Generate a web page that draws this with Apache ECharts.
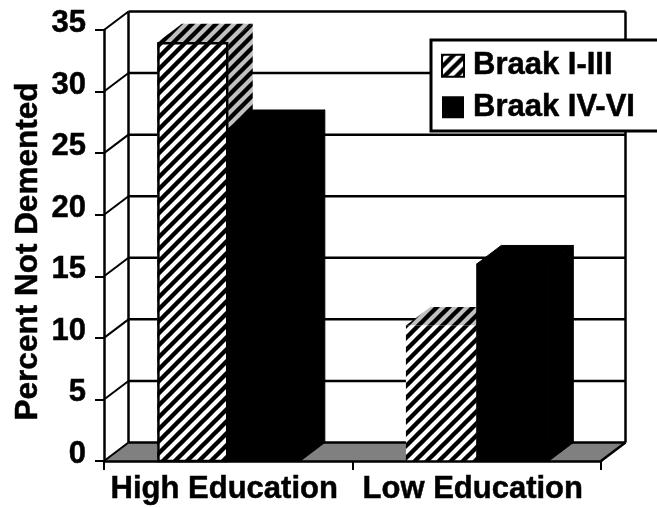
<!DOCTYPE html>
<html>
<head>
<meta charset="utf-8">
<style>html,body{margin:0;padding:0;background:#fff}#chart{width:657px;height:508px}</style>
<script src="https://cdn.jsdelivr.net/npm/echarts@6/dist/echarts.min.js"></script>
</head>
<body>
<div id="chart"></div>
<script>
const categories = ['High Education', 'Low Education'];
const seriesNames = ['Braak I-III', 'Braak IV-VI'];
const braakEarly = [34, 11];
const braakLate = [27, 16];
const yTicks = [0, 5, 10, 15, 20, 25, 30, 35];

// Oblique projection of the depth axis, in pixels.
const DEPTH_X = 24.5;
const DEPTH_Y = -18.5;
const BAR_SHARES = [0.285, 0.29];
const FONT = '"Liberation Sans", Arial, sans-serif';

function heavyText(size) {
  return {
    color: '#000',
    fontFamily: FONT,
    fontWeight: 'bold',
    fontSize: size,
    textBorderColor: '#000',
    textBorderWidth: 0.5
  };
}

function hatch(background) {
  const size = 12;
  const c = document.createElement('canvas');
  c.width = size;
  c.height = size;
  const g = c.getContext('2d');
  g.fillStyle = background;
  g.fillRect(0, 0, size, size);
  g.strokeStyle = '#000';
  g.lineWidth = 4.4;
  [[-size, size, size, -size], [0, size, size, 0], [0, 2 * size, 2 * size, 0]].forEach(function (s) {
    g.beginPath();
    g.moveTo(s[0], s[1]);
    g.lineTo(s[2], s[3]);
    g.stroke();
  });
  return { image: c, repeat: 'repeat' };
}

const hatchFront = hatch('#fff');
const hatchShaded = hatch('#c0c0c0');

function poly(points, fill, solid) {
  return {
    type: 'polygon',
    shape: { points: points },
    style: solid ? { fill: fill, stroke: fill, lineWidth: 1 } : { fill: fill, stroke: null }
  };
}

function seg(x1, y1, x2, y2, width) {
  return {
    type: 'line',
    shape: { x1: x1, y1: y1, x2: x2, y2: y2 },
    style: { stroke: '#000', lineWidth: width }
  };
}

// Back wall, floor and the gridlines that wrap round the left wall.
function renderFrame(params, api) {
  const grid = params.coordSys;
  const left = grid.x;
  const right = grid.x + grid.width;
  const wallL = left + DEPTH_X;
  const wallR = right + DEPTH_X;
  const y = api.coord([0, api.value(1)])[1];
  const wallY = y + DEPTH_Y;
  const children = [];
  if (api.value(1) === 0) {
    children.push(poly([[left, y], [wallL, wallY], [wallR, wallY], [right, y]], '#808080'));
    children.push(seg(right, y, wallR, wallY, 2.5));
    children.push(seg(wallR, wallY, wallR, grid.y + DEPTH_Y, 2.5));
    children.push(seg(wallL, wallY, wallL, grid.y + DEPTH_Y, 2.5));
  }
  children.push(seg(wallL, wallY, wallR, wallY, 2.5));
  children.push(seg(left, y, wallL, wallY, 2));
  return { type: 'group', children: children };
}

function barRenderer(side, front, shaded, solid, outlined) {
  return function (params, api) {
    const band = api.size([1, 0])[0];
    const width = band * BAR_SHARES[side];
    const centre = api.coord([api.value(0), api.value(1)]);
    const x0 = side === 0 ? centre[0] - width : centre[0];
    const x1 = x0 + width;
    const top = centre[1];
    const base = api.coord([api.value(0), 0])[1];
    const children = [
      poly([[x1, top], [x1 + DEPTH_X, top + DEPTH_Y], [x1 + DEPTH_X, base + DEPTH_Y], [x1, base]], shaded, solid),
      poly([[x0, top], [x0 + DEPTH_X, top + DEPTH_Y], [x1 + DEPTH_X, top + DEPTH_Y], [x1, top]], shaded, solid),
      poly([[x0, top], [x1, top], [x1, base], [x0, base]], front, solid)
    ];
    if (outlined(params.dataIndex)) {
      children.push({
        type: 'rect',
        shape: { x: x0 + 1, y: top + 1, width: width - 2, height: base - top - 1 },
        style: { fill: null, stroke: '#000', lineWidth: 2.5 }
      });
    }
    return { type: 'group', children: children };
  };
}

const chart = echarts.init(document.getElementById('chart'), null, { renderer: 'canvas' });
chart.setOption({
  animation: false,
  backgroundColor: '#fff',
  grid: { left: 104, top: 30, width: 497, height: 431, outerBoundsMode: 'none' },
  xAxis: {
    type: 'category',
    data: categories,
    z: 5,
    axisLine: { lineStyle: { color: '#000', width: 2.5 } },
    axisTick: { show: true, alignWithLabel: false, length: 9, lineStyle: { color: '#000', width: 2 } },
    axisLabel: Object.assign(heavyText(31), { interval: 0, margin: 13, padding: [0, 8, 0, 0], hideOverlap: false })
  },
  yAxis: {
    type: 'value',
    min: 0,
    max: 35,
    interval: 5,
    z: 5,
    name: 'Percent Not Demented',
    nameLocation: 'middle',
    nameRotate: 90,
    nameGap: 60,
    nameMoveOverlap: false,
    nameTextStyle: Object.assign(heavyText(31.5), { padding: [0, 12, 0, 0] }),
    axisLine: { show: true, lineStyle: { color: '#000', width: 2.5 } },
    axisTick: { show: true, length: 9, lineStyle: { color: '#000', width: 2 } },
    axisLabel: Object.assign(heavyText(31), { margin: 18, verticalAlign: 'bottom', lineHeight: 13 }),
    splitLine: { show: false }
  },
  legend: {
    left: 431,
    top: 40,
    orient: 'vertical',
    data: seriesNames.map(function (name) { return { name: name, icon: 'rect' }; }),
    padding: [10, 40, 8, 10],
    itemGap: 10,
    itemWidth: 22,
    itemHeight: 22,
    selectedMode: false,
    backgroundColor: '#fff',
    borderColor: '#000',
    borderWidth: 3,
    borderRadius: 0,
    textStyle: Object.assign(heavyText(31), { padding: [0, 0, 0, 4] })
  },
  series: [
    {
      type: 'custom',
      name: 'frame',
      silent: true,
      renderItem: renderFrame,
      encode: { x: 0, y: 1 },
      data: yTicks.map(function (v) { return [0, v]; }),
      z: 1
    },
    {
      type: 'custom',
      name: seriesNames[0],
      renderItem: barRenderer(0, hatchFront, hatchShaded, false, function (i) { return i === 0; }),
      encode: { x: 0, y: 1 },
      itemStyle: { color: hatchFront, borderColor: '#000', borderWidth: 2 },
      data: braakEarly.map(function (v, i) { return [i, v]; }),
      z: 2
    },
    {
      type: 'custom',
      name: seriesNames[1],
      renderItem: barRenderer(1, '#000', '#000', true, function () { return false; }),
      encode: { x: 0, y: 1 },
      itemStyle: { color: '#000' },
      data: braakLate.map(function (v, i) { return [i, v]; }),
      z: 3
    }
  ]
});
</script>
</body>
</html>
